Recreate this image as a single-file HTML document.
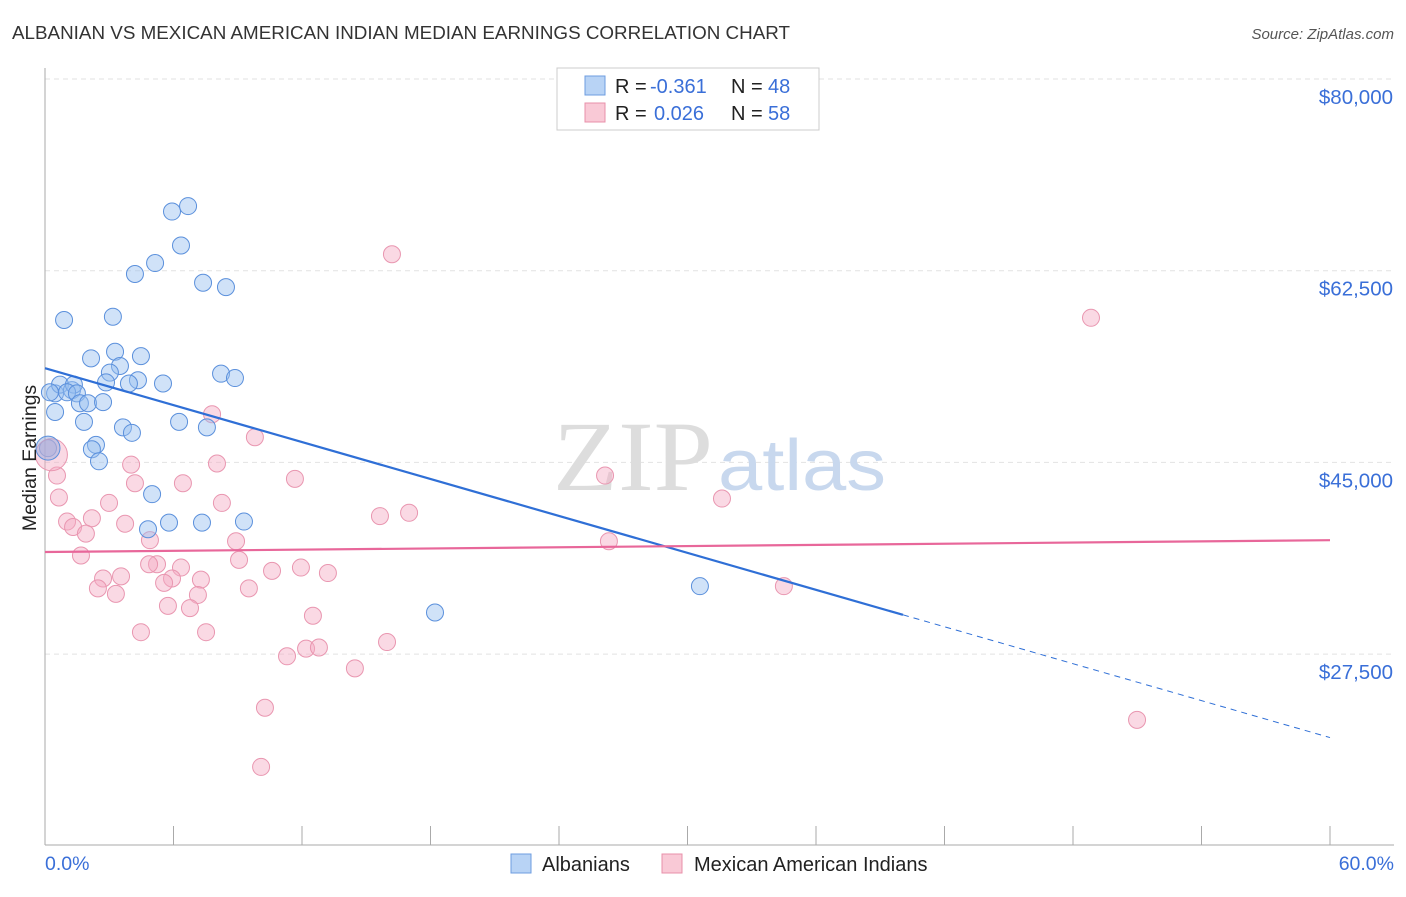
<!DOCTYPE html>
<html><head><meta charset="utf-8"><style>
body{margin:0;background:#fff;font-family:"Liberation Sans",sans-serif;}
</style></head><body>
<svg width="1406" height="892" viewBox="0 0 1406 892" xmlns="http://www.w3.org/2000/svg">
<text x="12" y="39" font-size="18" fill="#333" textLength="778" lengthAdjust="spacingAndGlyphs">ALBANIAN VS MEXICAN AMERICAN INDIAN MEDIAN EARNINGS CORRELATION CHART</text>
<text x="1394" y="39" font-size="15" fill="#555" font-style="italic" text-anchor="end">Source: ZipAtlas.com</text>
<g id="grid"></g>
<text x="553" y="490" font-size="100" fill="#ddd" font-family="Liberation Serif,serif" textLength="160" lengthAdjust="spacingAndGlyphs">ZIP</text>
<text x="718" y="490" font-size="72" fill="#c8d8ee" textLength="168" lengthAdjust="spacingAndGlyphs">atlas</text>
<g id="pts"></g>
<g id="lines"></g>
<text x="36" y="458" font-size="19.5" fill="#222" text-anchor="middle" transform="rotate(-90 36 458)">Median Earnings</text>
<text x="45" y="870" font-size="19.5" fill="#3a6fd8">0.0%</text>
<text x="1394" y="870" font-size="19.5" fill="#3a6fd8" text-anchor="end">60.0%</text>
<g>
<rect x="557" y="68" width="262" height="62" fill="#fff" stroke="#ccc"/>
<rect x="585" y="76" width="20" height="19" fill="#b8d3f5" stroke="#6e9de0"/>
<rect x="585" y="103" width="20" height="19" fill="#f9c9d6" stroke="#e890aa"/>
<text x="615" y="93" font-size="20" fill="#222">R =</text>
<text x="650" y="93" font-size="20" fill="#3a6fd8">-0.361</text>
<text x="731" y="93" font-size="20" fill="#222">N =</text>
<text x="768" y="93" font-size="20" fill="#3a6fd8">48</text>
<text x="615" y="120" font-size="20" fill="#222">R =</text>
<text x="654" y="120" font-size="20" fill="#3a6fd8">0.026</text>
<text x="731" y="120" font-size="20" fill="#222">N =</text>
<text x="768" y="120" font-size="20" fill="#3a6fd8">58</text>
</g>
<g>
<rect x="511" y="854" width="20" height="19" fill="#b8d3f5" stroke="#6e9de0"/>
<text x="542" y="871" font-size="20" fill="#222">Albanians</text>
<rect x="662" y="854" width="20" height="19" fill="#f9c9d6" stroke="#e890aa"/>
<text x="694" y="871" font-size="20" fill="#222">Mexican American Indians</text>
</g>
</svg>
<script>
const yTicks=[80000,62500,45000,27500];
const yTickLabels=["$80,000","$62,500","$45,000","$27,500"];
const xTicks=[0,6,12,18,24,30,36,42,48,54,60];
const blueX=[0.47,0.89,3.17,2.15,3.27,4.48,3.50,3.03,2.85,4.34,3.92,5.51,0.70,1.26,1.35,1.03,1.49,1.63,2.01,2.71,0.47,1.82,3.64,4.06,2.38,2.19,2.52,6.26,7.56,8.22,8.87,5.00,5.79,4.81,7.33,9.29,5.93,6.68,6.35,5.14,4.20,7.38,8.45,0.14,0.23,18.21,30.58];
const blueY=[51300,58000,58300,54500,55100,54700,53800,53200,52300,52500,52200,52200,52100,51600,52100,51400,51300,50400,50400,50500,49600,48700,48200,47700,46600,46200,45100,48700,48200,53100,52700,42100,39500,38900,39500,39600,67900,68400,64800,63200,62200,61400,61000,46300,51400,31300,33700];
const pinkX=[16.2,48.84,7.80,9.80,4.02,8.03,4.20,6.44,11.67,26.15,31.61,2.99,8.26,0.65,0.56,2.19,1.03,1.31,3.74,1.91,4.90,8.92,1.68,5.23,4.86,9.06,10.60,11.95,13.21,6.35,2.71,3.55,5.93,5.56,7.28,2.47,3.31,9.52,7.14,5.74,6.77,4.48,7.52,12.51,11.30,12.19,12.79,15.97,14.47,10.27,10.09,15.64,17.00,26.33,34.50,50.99];
const pinkY=[64000,58200,49400,47300,44800,44900,43100,43100,43500,43800,41700,41300,41300,41800,43800,39900,39600,39100,39400,38500,37900,37800,36500,35700,35700,36100,35100,35400,34900,35400,34400,34600,34400,34000,34300,33500,33000,33500,32900,31900,31700,29500,29500,31000,27300,28000,28100,28600,26200,22600,17200,40100,40400,37800,33700,21500];
const bigX=[0.3,0.14];const bigY=[45700,46300];
const blueTrend=[53600,19880];const pinkTrend=[36820,37900];
const NS="http://www.w3.org/2000/svg";
const sx=v=>45+v/60*1285;
const sy=v=>79+(80000-v)/17500*191.7;
function mk(t,a,p){const e=document.createElementNS(NS,t);for(const k in a)e.setAttribute(k,a[k]);p.appendChild(e);return e;}
const grid=document.getElementById('grid');
yTicks.forEach((t,i)=>{
 const l=mk('line',{x1:45,x2:1394,y1:sy(t),y2:sy(t),stroke:'#e2e2e2','stroke-dasharray':'5 4'},grid);
 
 
 const tx=mk('text',{x:1393,y:sy(t)+25,'font-size':20.5,fill:'#3a6fd8','text-anchor':'end'},grid);
 tx.textContent=yTickLabels[i];
 
 
});
mk('line',{x1:45,x2:45,y1:68,y2:845,stroke:'#aaa'},grid);
mk('line',{x1:45,x2:1394,y1:845,y2:845,stroke:'#aaa'},grid);
xTicks.forEach(t=>{const l=mk('line',{x1:sx(t),x2:sx(t),y1:826,y2:845,stroke:'#aaa'},grid);
 
 });
const pts=document.getElementById('pts');
pinkX.forEach((x,i)=>{const c=mk('circle',{cx:sx(x),cy:sy(pinkY[i]),r:8.5,fill:'rgba(245,170,195,0.45)',stroke:'#e996b0','stroke-width':1},pts);
 
 });
blueX.forEach((x,i)=>{const c=mk('circle',{cx:sx(x),cy:sy(blueY[i]),r:8.5,fill:'rgba(150,190,240,0.45)',stroke:'#5b90dc','stroke-width':1},pts);
 
 });
let b=mk('circle',{cx:sx(bigX[0]),cy:sy(bigY[0]),r:16,fill:'rgba(245,170,195,0.45)',stroke:'#e996b0'},pts);


b=mk('circle',{cx:sx(bigX[1]),cy:sy(bigY[1]),r:12,fill:'rgba(150,170,220,0.5)',stroke:'#5b90dc'},pts);


const ln=document.getElementById('lines');
const by=x=>blueTrend[0]+(blueTrend[1]-blueTrend[0])*x/60;
let l=mk('line',{x1:sx(0),y1:sy(by(0)),x2:sx(40.06),y2:sy(by(40.06)),stroke:'#2f6fd6','stroke-width':2.2},ln);


l=mk('line',{x1:sx(40.06),y1:sy(by(40.06)),x2:sx(60),y2:sy(by(60)),stroke:'#2f6fd6','stroke-width':1,'stroke-dasharray':'6 5'},ln);


l=mk('line',{x1:sx(0),y1:sy(pinkTrend[0]),x2:sx(60),y2:sy(pinkTrend[1]),stroke:'#e8679a','stroke-width':2.2},ln);


</script>
</body></html>
